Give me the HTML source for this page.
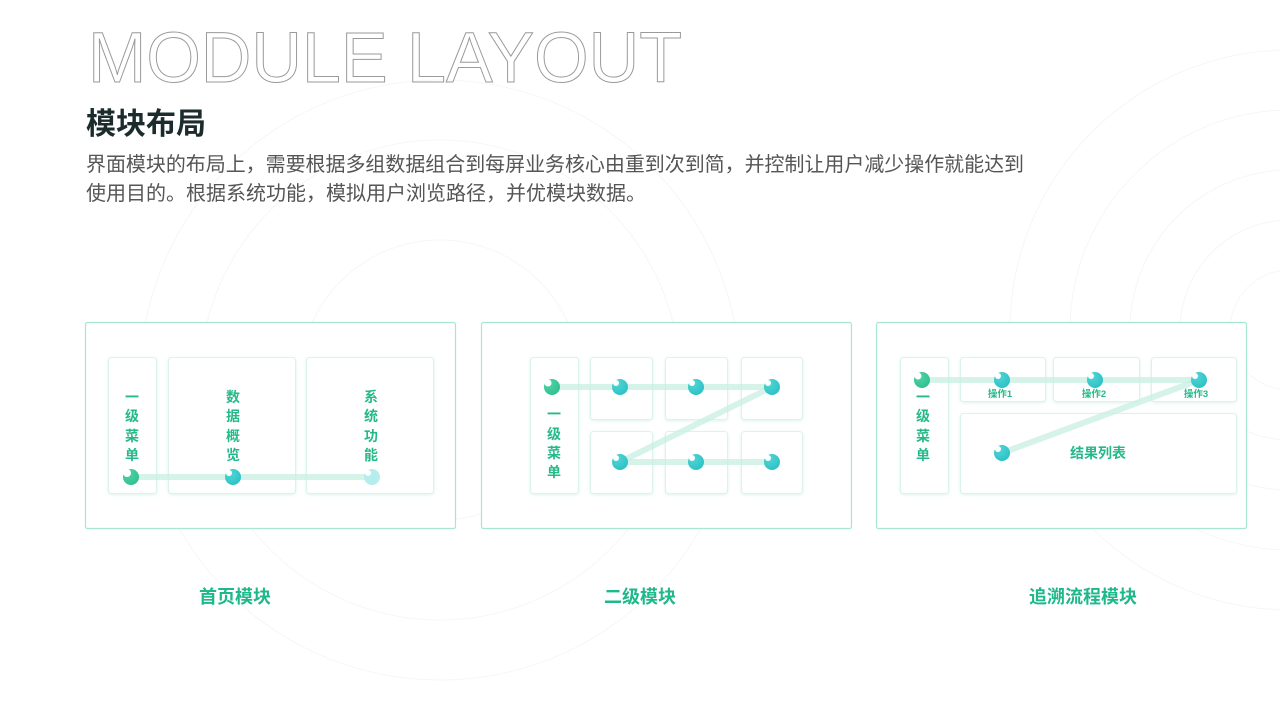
<!DOCTYPE html>
<html><head><meta charset="utf-8"><style>
html,body{margin:0;padding:0;background:#fff;}
body{width:1280px;height:720px;overflow:hidden;position:relative;font-family:"Liberation Sans","Noto Sans CJK SC",sans-serif;}
svg text{font-family:"Liberation Sans","Noto Sans CJK SC",sans-serif;}
</style></head><body>
<svg width="1280" height="720" viewBox="0 0 1280 720" xmlns="http://www.w3.org/2000/svg" style="position:absolute;left:0;top:0">
<defs>
<radialGradient id="gt" cx="0.35" cy="0.3" r="0.8"><stop offset="0" stop-color="#4fd6d6"/><stop offset="1" stop-color="#2bbfc4"/></radialGradient>
<radialGradient id="gg" cx="0.35" cy="0.3" r="0.8"><stop offset="0" stop-color="#4fd2a6"/><stop offset="1" stop-color="#2fbf8f"/></radialGradient>
<filter id="sh" x="-10%" y="-10%" width="120%" height="130%"><feDropShadow dx="0" dy="1" stdDeviation="1.5" flood-color="#9fe0cc" flood-opacity="0.35"/></filter>
</defs>
<g fill="none" stroke="#f5f6f6" stroke-width="1">
<circle cx="440" cy="380" r="140"/><circle cx="440" cy="380" r="240"/><circle cx="440" cy="380" r="300"/>
<circle cx="1290" cy="330" r="60"/><circle cx="1290" cy="330" r="110"/><circle cx="1290" cy="330" r="160"/><circle cx="1290" cy="330" r="220"/><circle cx="1290" cy="330" r="280"/>
</g>
<text x="88" y="82" font-size="71" textLength="594" lengthAdjust="spacingAndGlyphs" fill="none" stroke="#9a9a9a" stroke-width="1">MODULE LAYOUT</text>
<text x="86" y="134" font-size="30" font-weight="bold" fill="#1c2b2b">模块布局</text>
<text x="86" y="171" font-size="20" fill="#555" textLength="938" lengthAdjust="spacingAndGlyphs">界面模块的布局上，需要根据多组数据组合到每屏业务核心由重到次到简，并控制让用户减少操作就能达到</text>
<text x="86" y="200" font-size="20" fill="#555">使用目的。根据系统功能，模拟用户浏览路径，并优模块数据。</text>

<g fill="#fff" stroke="#a6e6d2" stroke-width="1.2">
<rect x="85.5" y="322.5" width="370" height="206" rx="2"/>
<rect x="481.5" y="322.5" width="370" height="206" rx="2"/>
<rect x="876.5" y="322.5" width="370" height="206" rx="2"/>
</g>
<g fill="#fff" stroke="#dcf3ec" stroke-width="1" filter="url(#sh)">
<rect x="108.5" y="357.5" width="48" height="136" rx="3"/>
<rect x="168.5" y="357.5" width="127" height="136" rx="3"/>
<rect x="306.5" y="357.5" width="127" height="136" rx="3"/>
<rect x="530.5" y="357.5" width="48" height="136" rx="3"/>
<rect x="590.5" y="357.5" width="62" height="62" rx="3"/>
<rect x="665.5" y="357.5" width="62" height="62" rx="3"/>
<rect x="741.5" y="357.5" width="61" height="62" rx="3"/>
<rect x="590.5" y="431.5" width="62" height="62" rx="3"/>
<rect x="665.5" y="431.5" width="62" height="62" rx="3"/>
<rect x="741.5" y="431.5" width="61" height="62" rx="3"/>
<rect x="900.5" y="357.5" width="48" height="136" rx="3"/>
<rect x="960.5" y="357.5" width="85" height="44" rx="3"/>
<rect x="1053.5" y="357.5" width="86" height="44" rx="3"/>
<rect x="1151.5" y="357.5" width="85" height="44" rx="3"/>
<rect x="960.5" y="413.5" width="276" height="80" rx="3"/>
</g>
<g stroke="#c5eee1" stroke-opacity="0.7" stroke-width="6" fill="none" stroke-linecap="butt">
<line x1="131" y1="477" x2="372" y2="477"/>
<line x1="552" y1="387" x2="772" y2="387"/>
<line x1="772" y1="387" x2="620" y2="462"/>
<line x1="620" y1="462" x2="772" y2="462"/>
<line x1="922" y1="380" x2="1199" y2="380"/>
<line x1="1199" y1="380" x2="1002" y2="453"/>
</g>
<g>
<g transform="translate(131,477)"><circle r="8" fill="url(#gg)"/><circle cx="-4" cy="-4" r="4" fill="#fff"/></g>
<g transform="translate(233,477)"><circle r="8" fill="url(#gt)"/><circle cx="-4" cy="-4" r="3" fill="#fff"/></g>
<g transform="translate(372,477)"><circle r="8" fill="#b5ecec"/><circle cx="-4" cy="-4" r="3" fill="#fff"/></g>
<g transform="translate(552,387)"><circle r="8" fill="url(#gg)"/><circle cx="-4" cy="-4" r="3.5" fill="#fff"/></g>
<g transform="translate(620,387)"><circle r="8" fill="url(#gt)"/><circle cx="-4" cy="-4" r="3" fill="#fff"/></g>
<g transform="translate(696,387)"><circle r="8" fill="url(#gt)"/><circle cx="-4" cy="-4" r="3" fill="#fff"/></g>
<g transform="translate(772,387)"><circle r="8" fill="url(#gt)"/><circle cx="-4" cy="-4" r="3" fill="#fff"/></g>
<g transform="translate(620,462)"><circle r="8" fill="url(#gt)"/><circle cx="-4" cy="-4" r="3" fill="#fff"/></g>
<g transform="translate(696,462)"><circle r="8" fill="url(#gt)"/><circle cx="-4" cy="-4" r="3" fill="#fff"/></g>
<g transform="translate(772,462)"><circle r="8" fill="url(#gt)"/><circle cx="-4" cy="-4" r="3" fill="#fff"/></g>
<g transform="translate(922,380)"><circle r="8" fill="url(#gg)"/><circle cx="-4" cy="-4" r="3.5" fill="#fff"/></g>
<g transform="translate(1002,380)"><circle r="8" fill="url(#gt)"/><circle cx="-4" cy="-4" r="3" fill="#fff"/></g>
<g transform="translate(1095,380)"><circle r="8" fill="url(#gt)"/><circle cx="-4" cy="-4" r="3" fill="#fff"/></g>
<g transform="translate(1199,380)"><circle r="8" fill="url(#gt)"/><circle cx="-4" cy="-4" r="3" fill="#fff"/></g>
<g transform="translate(1002,453)"><circle r="8" fill="url(#gt)"/><circle cx="-4" cy="-4" r="3" fill="#fff"/></g>
</g>
<g fill="#25b98a" font-size="14" text-anchor="middle" font-weight="bold">
<text x="132" y="402">一</text><text x="132" y="421">级</text><text x="132" y="441">菜</text><text x="132" y="460">单</text>
<text x="233" y="402">数</text><text x="233" y="421">据</text><text x="233" y="441">概</text><text x="233" y="460">览</text>
<text x="371" y="402">系</text><text x="371" y="421">统</text><text x="371" y="441">功</text><text x="371" y="460">能</text>
<text x="554" y="419">一</text><text x="554" y="439">级</text><text x="554" y="458">菜</text><text x="554" y="477">单</text>
<text x="923" y="402">一</text><text x="923" y="421">级</text><text x="923" y="441">菜</text><text x="923" y="460">单</text>
<text x="1098" y="458" font-size="14">结果列表</text>
<g font-size="9.5"><text x="1000" y="397">操作1</text><text x="1094" y="397">操作2</text><text x="1196" y="397">操作3</text></g>
</g>
<g fill="#1fb88a" font-size="18" font-weight="bold" text-anchor="middle">
<text x="235" y="603">首页模块</text>
<text x="640" y="603">二级模块</text>
<text x="1083" y="603">追溯流程模块</text>
</g>
</svg>
</body></html>
